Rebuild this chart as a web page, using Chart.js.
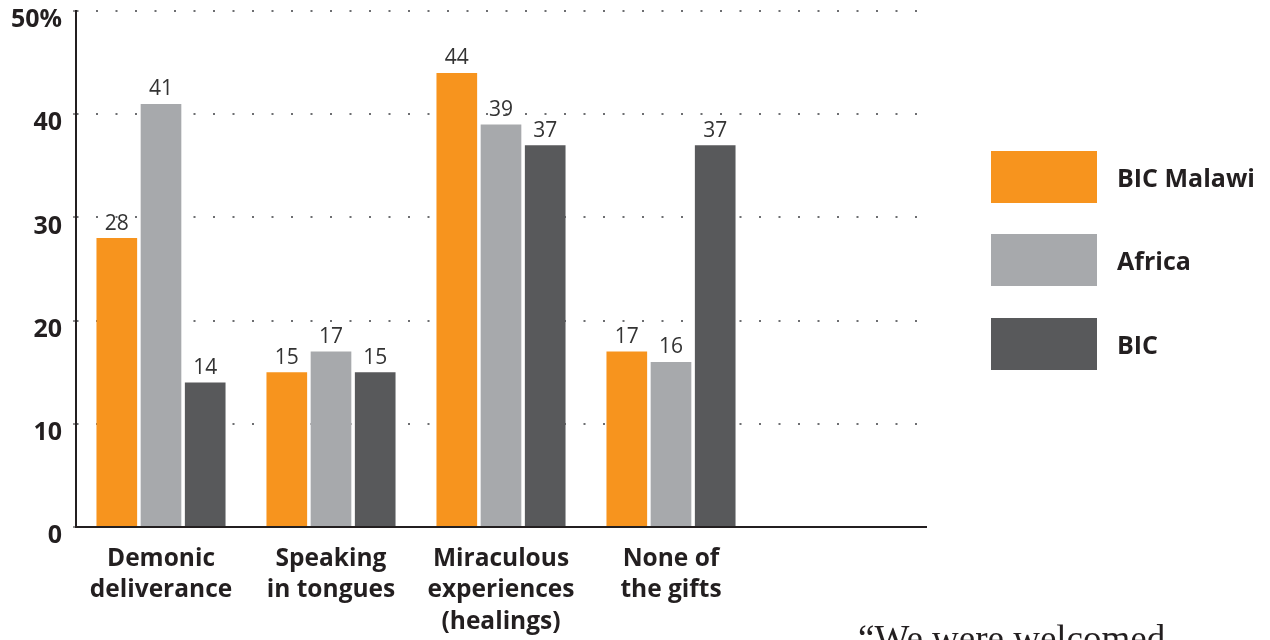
<!DOCTYPE html>
<html>
<head>
<meta charset="utf-8">
<script src="https://cdn.jsdelivr.net/npm/chart.js@4/dist/chart.umd.min.js"></script>
<style>
  html, body { margin: 0; padding: 0; background: #fff; }
  #wrap { position: relative; width: 1270px; height: 640px; overflow: hidden; }
  #quote {
    position: absolute; left: 858px; top: 620px;
    font-family: "Liberation Serif", "DejaVu Serif", serif;
    font-size: 37px; line-height: 37px; color: #231f20; white-space: nowrap;
  }
</style>
</head>
<body>
<div id="wrap">
  <canvas id="c" width="1270" height="640"></canvas>
  <div id="quote">“We were welcomed</div>
</div>
<script>
// Categories (multi-line labels); the last slot is left empty on purpose
const categories = [
  ["Demonic", "deliverance"],
  ["Speaking", "in tongues"],
  ["Miraculous", "experiences", "(healings)"],
  ["None of", "the gifts"],
  ""
];
const seriesNames = ["BIC Malawi", "Africa", "BIC"];
const bicMalawi = [28, 15, 44, 17, null];
const africa    = [41, 17, 39, 16, null];
const bic       = [14, 15, 37, 37, null];
const seriesColors = ["#F7941E", "#A7A9AC", "#58595B"];
const yTicks = [0, 10, 20, 30, 40, 50];

const INK = "#231f20";
const FONT = "'Open Sans', 'Noto Sans', sans-serif";

// Value labels above each bar
const valueLabels = {
  id: "valueLabels",
  afterDatasetsDraw(chart) {
    const ctx = chart.ctx;
    ctx.save();
    ctx.font = "21px " + FONT;
    ctx.fillStyle = "#333333";
    ctx.textAlign = "center";
    ctx.textBaseline = "bottom";
    chart.data.datasets.forEach((ds, i) => {
      const meta = chart.getDatasetMeta(i);
      meta.data.forEach((bar, j) => {
        const v = ds.data[j];
        if (v == null) return;
        ctx.fillText(String(v), bar.x, bar.y - 4);
      });
    });
    ctx.restore();
  }
};

// Legend with large swatches, to the right of the plot
const sideLegend = {
  id: "sideLegend",
  afterDraw(chart) {
    const ctx = chart.ctx;
    const x0 = chart.chartArea.right + 65;
    const tops = [151, 234, 318];
    ctx.save();
    ctx.font = "bold 25px " + FONT;
    ctx.textBaseline = "middle";
    ctx.textAlign = "left";
    chart.data.datasets.forEach((ds, i) => {
      ctx.fillStyle = ds.backgroundColor;
      ctx.fillRect(x0, tops[i], 106, 52);
      ctx.fillStyle = INK;
      ctx.fillText(ds.label, x0 + 126, tops[i] + 29);
    });
    ctx.restore();
  }
};

new Chart(document.getElementById("c"), {
  type: "bar",
  data: {
    labels: categories,
    datasets: [
      { label: seriesNames[0], data: bicMalawi, backgroundColor: seriesColors[0] },
      { label: seriesNames[1], data: africa, backgroundColor: seriesColors[1] },
      { label: seriesNames[2], data: bic, backgroundColor: seriesColors[2] }
    ]
  },
  options: {
    responsive: false,
    animation: false,
    layout: { padding: { top: 11, right: 344, left: 0, bottom: 0 } },
    datasets: { bar: { categoryPercentage: 0.78, barPercentage: 0.92 } },
    plugins: {
      legend: { display: false },
      tooltip: { enabled: false }
    },
    scales: {
      x: {
        afterFit(s) { s.height = 113; },
        grid: { display: false, drawTicks: false },
        border: { display: true, color: INK, width: 2 },
        ticks: {
          color: INK,
          padding: 16,
          maxRotation: 0,
          autoSkip: false,
          font: { family: FONT, size: 24.5, weight: "bold", lineHeight: 1.286 }
        }
      },
      y: {
        min: 0, max: 50,
        afterFit(s) { s.width = 76; s.paddingTop = 0; s.paddingBottom = 0; },
        afterBuildTicks(s) { s.ticks = yTicks.map(v => ({ value: v })); },
        border: { display: true, color: INK, width: 2, dash: [2, 17.5], dashOffset: 0.5 },
        grid: {
          color: "#6d6e71",
          lineWidth: 2,
          drawTicks: true,
          tickLength: 3,
          tickColor: INK,
          tickWidth: 1
        },
        ticks: {
          color: INK,
          padding: 11,
          labelOffset: 9,
          font: { family: FONT, size: 25, weight: "bold" },
          callback: (v) => (v === 50 ? v + "%" : String(v))
        }
      }
    }
  },
  plugins: [valueLabels, sideLegend]
});
</script>
</body>
</html>
